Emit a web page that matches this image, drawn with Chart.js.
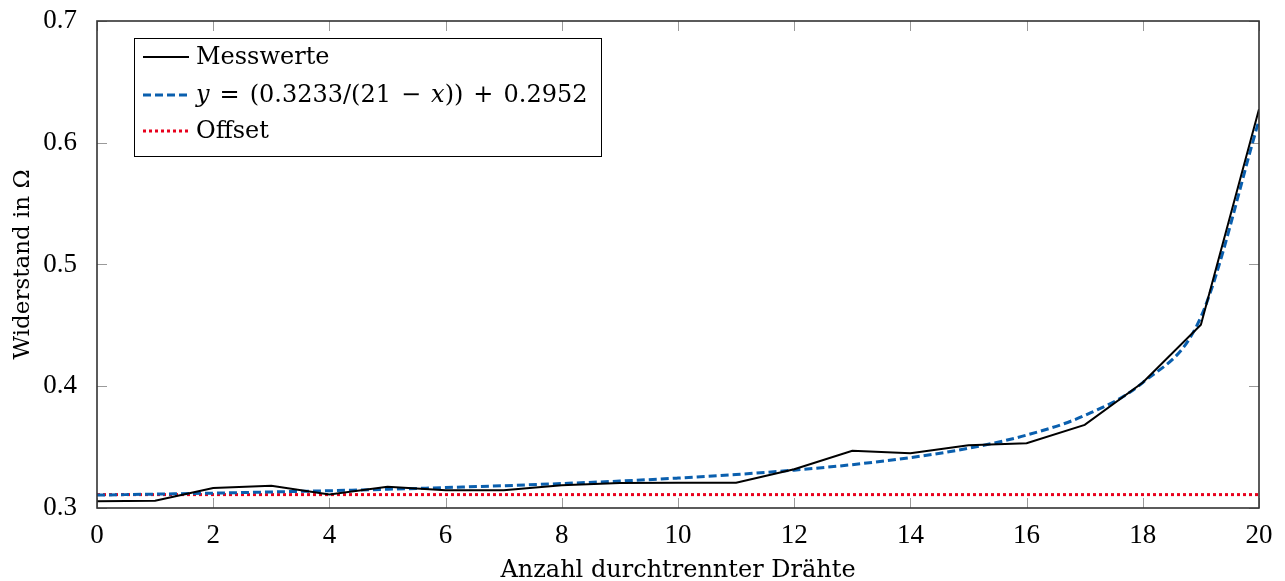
<!DOCTYPE html>
<html>
<head>
<meta charset="utf-8">
<script src="https://cdn.jsdelivr.net/npm/chart.js@4"></script>
<style>
  body { margin: 0; background: #fff; }
  #wrap { width: 1285px; height: 581px; position: relative; }
</style>
</head>
<body>
<div id="wrap"><canvas id="myChart"></canvas></div>
<script>
// Anzahl durchtrennter Drähte
const drahtAnzahl = [0, 1, 2, 3, 4, 5, 6, 7, 8, 9, 10, 11, 12, 13, 14, 15, 16, 17, 18, 19, 20];
// gemessener Widerstand in Ohm
const messwerte = [0.3055, 0.306, 0.3165, 0.3182, 0.311, 0.3174, 0.3146, 0.3146, 0.3187, 0.3205, 0.3208, 0.3208,
                   0.3318, 0.347, 0.345, 0.3516, 0.3532, 0.3683, 0.4031, 0.4506, 0.6276];
// Fit y = (0.3233/(21 - x)) + 0.2952, an den ganzen Zahlen
const fitWerte = [0.3106, 0.3114, 0.3122, 0.3132, 0.3142, 0.3154, 0.3168, 0.3183, 0.3201, 0.3221, 0.3246, 0.3275,
                  0.3311, 0.3356, 0.3414, 0.3491, 0.3599, 0.3760, 0.4030, 0.4569, 0.6185];
const offsetX = [0, 20];
const offsetWerte = [0.311, 0.311];

const xTicks = [0, 2, 4, 6, 8, 10, 12, 14, 16, 18, 20];
const yTicks = [0.3, 0.4, 0.5, 0.6, 0.7];

const SERIF = '"DejaVu Serif", serif';
const TICKFONT = '"Liberation Serif", serif';

function pts(xs, ys) {
  return xs.map((x, i) => ({ x: x, y: ys[i] }));
}

// ticks pointing inwards on all four sides + frame
const frameTicks = {
  id: 'frameTicks',
  beforeDatasetsDraw(chart) {
    const { ctx, chartArea: a, scales: { x, y } } = chart;
    const len = 10;
    ctx.save();
    ctx.strokeStyle = '#9a9a9a';
    ctx.lineWidth = 1;
    ctx.beginPath();
    xTicks.forEach(v => {
      const px = Math.round(x.getPixelForValue(v)) + 0.5;
      ctx.moveTo(px, a.bottom); ctx.lineTo(px, a.bottom - len);
      ctx.moveTo(px, a.top); ctx.lineTo(px, a.top + len);
    });
    yTicks.forEach(v => {
      const py = Math.round(y.getPixelForValue(v)) + 0.5;
      ctx.moveTo(a.left, py); ctx.lineTo(a.left + len, py);
      ctx.moveTo(a.right, py); ctx.lineTo(a.right - len, py);
    });
    ctx.stroke();
    ctx.restore();
  },
  afterDraw(chart) {
    const { ctx, chartArea: a } = chart;
    ctx.save();
    ctx.strokeStyle = '#333';
    ctx.lineWidth = 1.6;
    ctx.strokeRect(a.left, a.top, a.right - a.left, a.bottom - a.top);
    ctx.restore();
  }
};

const messwerteLabel = 'Messwerte';

// legend box in the upper left corner; numbers in a label are extra gaps in px
const innerLegend = {
  id: 'innerLegend',
  afterDraw(chart) {
    const { ctx } = chart;
    const box = { x: 134, y: 38, w: 467, h: 118 };
    const rows = [57, 95, 131];
    const upright = '24px ' + SERIF;
    const italic = 'italic 24px ' + SERIF;
    const g = 10;
    ctx.save();
    ctx.fillStyle = '#fff';
    ctx.fillRect(box.x, box.y, box.w, box.h);
    ctx.strokeStyle = '#000';
    ctx.lineWidth = 1;
    ctx.strokeRect(box.x + 0.5, box.y + 0.5, box.w, box.h);

    const labels = [
      [[messwerteLabel, upright]],
      [['y', italic], g, ['=', upright], g, ['(0.3233/(21', upright], g, ['−', upright], g, ['x', italic],
       ['))', upright], g, ['+', upright], g, ['0.2952', upright]],
      [['Offset', upright]]
    ];
    chart.data.datasets.forEach((ds, i) => {
      const yy = rows[i];
      ctx.strokeStyle = ds.borderColor;
      ctx.lineWidth = ds.borderWidth;
      ctx.setLineDash(ds.borderDash || []);
      ctx.beginPath();
      ctx.moveTo(143, yy);
      ctx.lineTo(189, yy);
      ctx.stroke();
      ctx.setLineDash([]);
      let tx = 196;
      ctx.fillStyle = '#000';
      ctx.textBaseline = 'middle';
      labels[i].forEach(part => {
        if (typeof part === 'number') { tx += part; return; }
        const [t, f] = part;
        ctx.font = f;
        ctx.fillText(t, tx, yy + 1);
        tx += ctx.measureText(t).width;
      });
    });
    ctx.restore();
  }
};

// keep the plot box fixed, labels may hang over the edges
function noScalePadding(scale) {
  scale.paddingTop = 0;
  scale.paddingBottom = 0;
  scale.paddingLeft = 0;
  scale.paddingRight = 0;
}

const ctx = document.getElementById('myChart').getContext('2d');
const myChart = new Chart(ctx, {
  type: 'line',
  data: {
    datasets: [
      {
        label: messwerteLabel,
        data: pts(drahtAnzahl, messwerte),
        borderColor: '#000000',
        borderWidth: 2,
        pointRadius: 0,
        tension: 0
      },
      {
        label: 'y = (0.3233/(21 − x)) + 0.2952',
        data: pts(drahtAnzahl, fitWerte),
        borderColor: '#0a5fae',
        borderWidth: 3,
        borderDash: [8, 4],
        pointRadius: 0,
        cubicInterpolationMode: 'monotone'
      },
      {
        label: 'Offset',
        data: pts(offsetX, offsetWerte),
        borderColor: '#e8001c',
        borderWidth: 3,
        borderDash: [3, 3],
        pointRadius: 0
      }
    ]
  },
  options: {
    responsive: true,
    maintainAspectRatio: false,
    animation: false,
    layout: { padding: { top: 21, right: 26, left: 0, bottom: 0 } },
    plugins: {
      legend: { display: false },
      tooltip: { enabled: false }
    },
    scales: {
      x: {
        type: 'linear',
        min: 0,
        max: 20,
        grid: { display: false },
        border: { display: false },
        afterFit(scale) { scale.height = 73; noScalePadding(scale); },
        afterBuildTicks(scale) { scale.ticks = xTicks.map(v => ({ value: v })); },
        ticks: {
          padding: 4,
          color: '#000',
          font: { family: TICKFONT, size: 27 },
          callback: v => String(v)
        },
        title: {
          display: true,
          text: 'Anzahl durchtrennter Drähte',
          color: '#000',
          font: { family: SERIF, size: 24, lineHeight: 1 },
          padding: { top: 0, bottom: -2 }
        }
      },
      y: {
        min: 0.3,
        max: 0.7,
        grid: { display: false },
        border: { display: false },
        afterFit(scale) { scale.width = 97; noScalePadding(scale); },
        afterBuildTicks(scale) { scale.ticks = yTicks.map(v => ({ value: v })); },
        ticks: {
          padding: 12,
          color: '#000',
          font: { family: TICKFONT, size: 27 },
          callback: v => v.toFixed(1)
        },
        title: {
          display: true,
          text: 'Widerstand in Ω',
          color: '#000',
          font: { family: SERIF, size: 23, lineHeight: 1.2 },
          padding: { top: 9, bottom: 0 }
        }
      }
    }
  },
  plugins: [frameTicks, innerLegend]
});
</script>
</body>
</html>
